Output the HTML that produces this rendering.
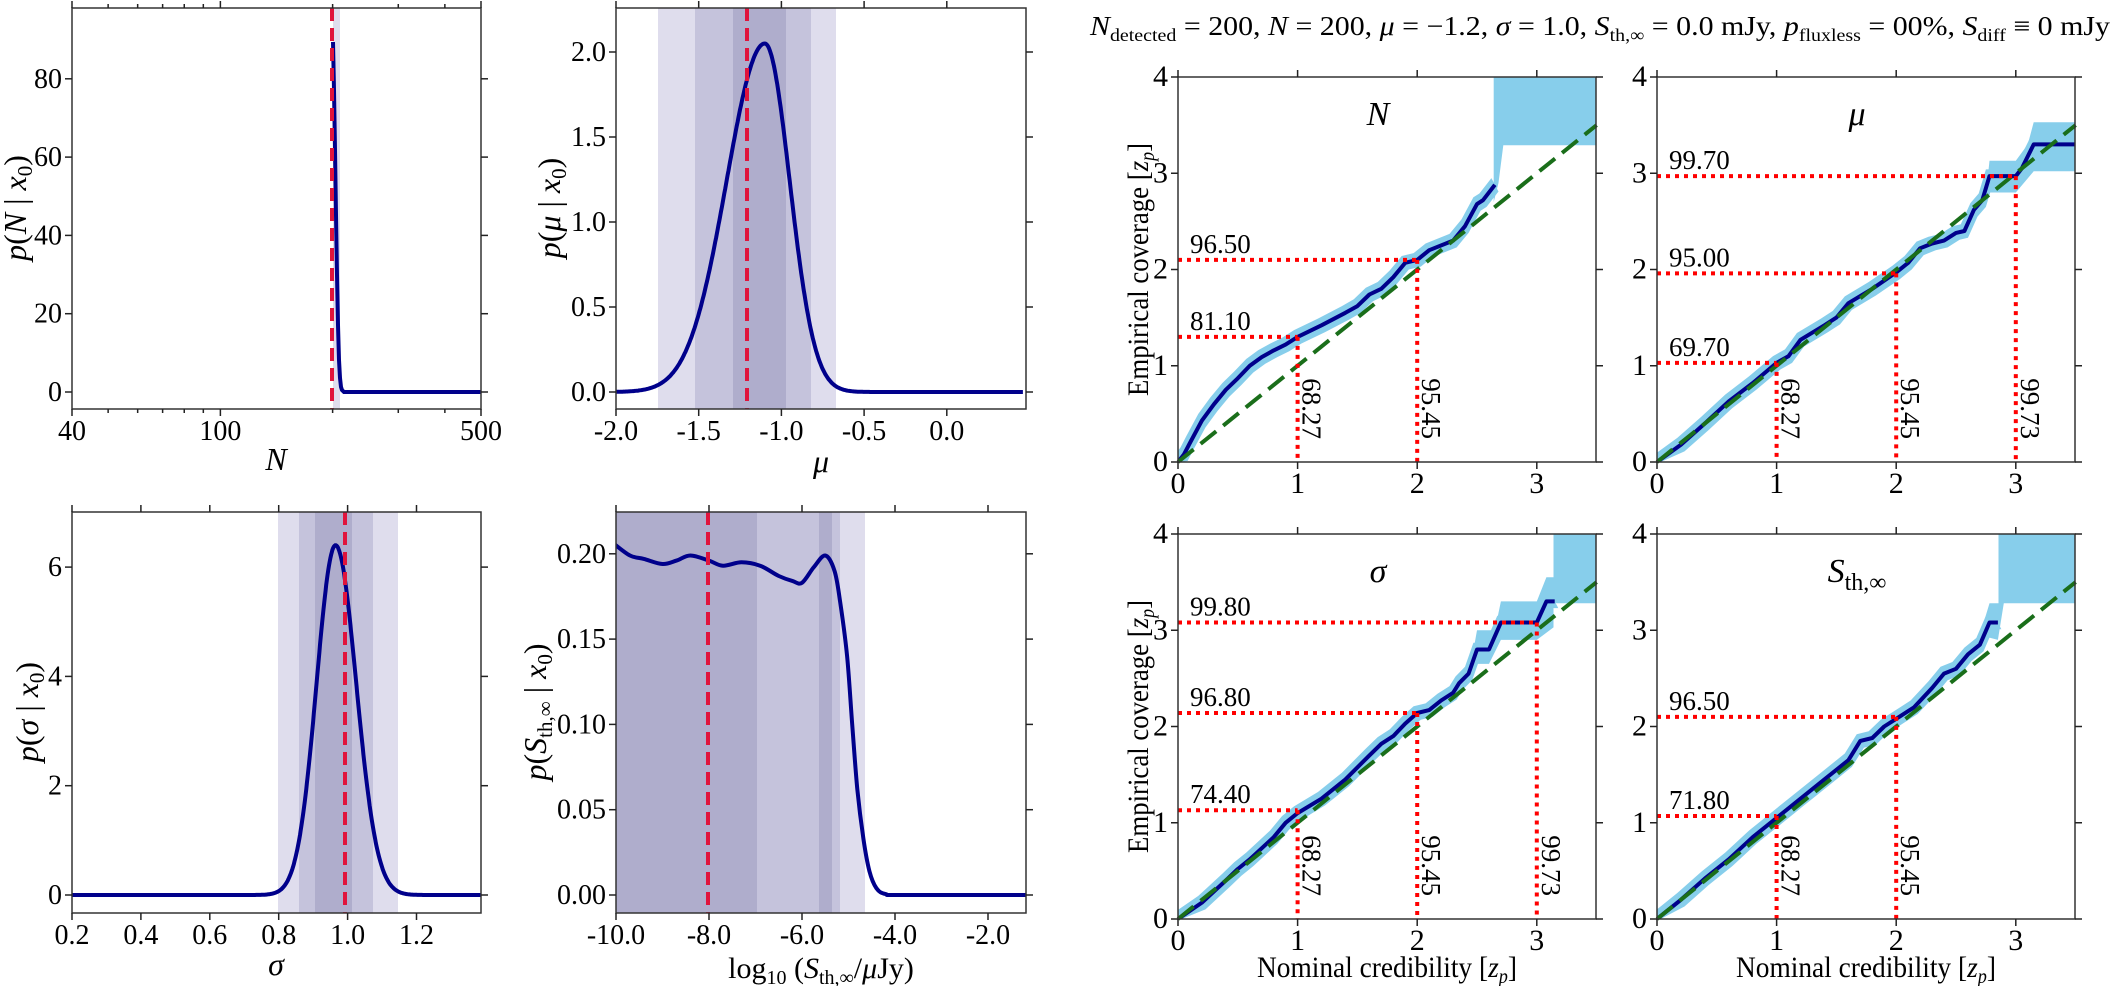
<!DOCTYPE html>
<html><head><meta charset="utf-8"><style>
html,body{margin:0;padding:0;background:#fff;}
svg{display:block;font-family:"Liberation Serif","DejaVu Serif",serif;}
text{font-family:"Liberation Serif","DejaVu Serif",serif;}
</style></head><body>
<svg id="s" width="2120" height="986" viewBox="0 0 2120 986" xmlns="http://www.w3.org/2000/svg" font-family="Liberation Serif, DejaVu Serif, serif"></svg>
<script>
var o='';
var LC='#dfdded',MC='#c5c3dc',DC='#afadcc',NAVY='#00008b',RED='#e0143c',SKY='#87ceeb',GRN='#1a6e1a';
function ln(x1,y1,x2,y2,a){o+='<line x1="'+x1+'" y1="'+y1+'" x2="'+x2+'" y2="'+y2+'" '+(a||'stroke="#222" stroke-width="1.5"')+'/>';}
function tx(x,y,s,a){o+='<text x="'+x+'" y="'+y+'" '+(a||'')+'>'+s+'</text>';}
function rect(x,y,w,h,f){o+='<rect x="'+x+'" y="'+y+'" width="'+w+'" height="'+h+'" fill="'+f+'"/>';}
function cr(p){var d='M'+p[0][0].toFixed(1)+','+p[0][1].toFixed(1);
 for(var i=0;i<p.length-1;i++){var p0=p[i-1]||p[i],p1=p[i],p2=p[i+1],p3=p[i+2]||p2;
 d+=' C'+(p1[0]+(p2[0]-p0[0])/6).toFixed(1)+','+(p1[1]+(p2[1]-p0[1])/6).toFixed(1)+' '+(p2[0]-(p3[0]-p1[0])/6).toFixed(1)+','+(p2[1]-(p3[1]-p1[1])/6).toFixed(1)+' '+p2[0].toFixed(1)+','+p2[1].toFixed(1);}
 return d;}
function pl(p){return 'M'+p.map(function(q){return q[0].toFixed(1)+','+q[1].toFixed(1);}).join(' L');}
var cid=0;
function clip(L,T,R,B){cid++;o+='<clipPath id="c'+cid+'"><rect x="'+L+'" y="'+T+'" width="'+(R-L)+'" height="'+(B-T)+'"/></clipPath>';return 'url(#c'+cid+')';}
function frame(L,T,R,B){o+='<rect x="'+L+'" y="'+T+'" width="'+(R-L)+'" height="'+(B-T)+'" fill="none" stroke="#333" stroke-width="1.5"/>';}
function xt(L,T,R,B,x,lab,fs,minor){var l=minor?4:7;ln(x,B,x,B+l);ln(x,T-l,x,T);if(lab!==null&&lab!==undefined)tx(x,B+31,lab,'font-size="'+fs+'" text-anchor="middle"');}
function yt(L,T,R,B,y,lab,fs){ln(L-7,y,L,y);ln(R,y,R+7,y);tx(L-10,y+9,lab,'font-size="'+fs+'" text-anchor="end"');}
var FS=28;

(function(){var L=72,T=8,R=481,B=409;var a=Math.log10(40),b=Math.log10(500);
 function X(n){return L+(Math.log10(n)-a)/(b-a)*409;} function Y(v){return 392-v*3.915;}
 rect(333,T,7,B-T,LC);
 var c=clip(L,T,R,B);
 var p=[[333,42],[334,90],[335,150],[336,215],[337,275],[338,325],[339,360],[340,378],[341,387],[342,390],[344,392],[481,392]];
 o+='<path d="'+pl(p)+'" fill="none" stroke="'+NAVY+'" stroke-width="4" clip-path="'+c+'"/>';
 ln(332,T,332,B,'stroke="'+RED+'" stroke-width="4" stroke-dasharray="13 7"');
 frame(L,T,R,B);
 [0,20,40,60,80].forEach(function(v){yt(L,T,R,B,Y(v),v,FS);});
 xt(L,T,R,B,X(40),'40',FS);xt(L,T,R,B,X(100),'100',FS);xt(L,T,R,B,X(500),'500',FS);
 [50,60,70,80,90,200,300,400].forEach(function(n){xt(L,T,R,B,X(n),null,FS,true);});
 o+='<text transform="translate(26,208) rotate(-90)" font-size="32" text-anchor="middle"><tspan font-style="italic">p</tspan>(<tspan font-style="italic">N</tspan> | <tspan font-style="italic">x</tspan><tspan font-size="21" dy="6">0</tspan><tspan dy="-6">)</tspan></text>';
 tx(276,470,'N','font-size="32" font-style="italic" text-anchor="middle"');
})();

(function(){var L=616,T=8,R=1026,B=409;
 function X(m){return L+(m+2)*165.4;} function Y(v){return 392-v*170;}
 rect(658,T,836-658,B-T,LC);rect(695,T,811-695,B-T,MC);rect(733,T,786-733,B-T,DC);
 var c=clip(L,T,R,B);var p=[];
 for(var m=-2;m<=0.46;m+=0.005){var pk=-1.1,s=m<pk?0.231:0.15;var v=2.05*Math.exp(-(m-pk)*(m-pk)/(2*s*s));p.push([X(m),Y(v)]);}
 o+='<path d="'+pl(p)+'" fill="none" stroke="'+NAVY+'" stroke-width="4" clip-path="'+c+'"/>';
 ln(747,T,747,B,'stroke="'+RED+'" stroke-width="4" stroke-dasharray="13 7"');
 frame(L,T,R,B);
 [[0,'0.0'],[0.5,'0.5'],[1,'1.0'],[1.5,'1.5'],[2,'2.0']].forEach(function(q){yt(L,T,R,B,Y(q[0]),q[1],FS);});
 [[-2,'-2.0'],[-1.5,'-1.5'],[-1,'-1.0'],[-0.5,'-0.5'],[0,'0.0']].forEach(function(q){xt(L,T,R,B,X(q[0]),q[1],FS);});
 o+='<text transform="translate(560,208) rotate(-90)" font-size="32" text-anchor="middle"><tspan font-style="italic">p</tspan>(<tspan font-style="italic">μ</tspan> | <tspan font-style="italic">x</tspan><tspan font-size="21" dy="6">0</tspan><tspan dy="-6">)</tspan></text>';
 tx(821,472,'μ','font-size="32" font-style="italic" text-anchor="middle"');
})();

(function(){var L=72,T=512,R=481,B=913;
 function X(s){return L+(s-0.2)*344.5;} function Y(v){return 895-v*54.65;}
 rect(278,T,120,B-T,LC);rect(299,T,74,B-T,MC);rect(315,T,37,B-T,DC);
 var c=clip(L,T,R,B);var p=[];
 for(var s=0.2;s<=1.39;s+=0.002){var pk=0.965,sd=s<pk?0.055:0.06;p.push([X(s),Y(6.4*Math.exp(-(s-pk)*(s-pk)/(2*sd*sd)))]);}
 o+='<path d="'+pl(p)+'" fill="none" stroke="'+NAVY+'" stroke-width="4" clip-path="'+c+'"/>';
 ln(345,T,345,B,'stroke="'+RED+'" stroke-width="4" stroke-dasharray="13 7"');
 frame(L,T,R,B);
 [0,2,4,6].forEach(function(v){yt(L,T,R,B,Y(v),v,FS);});
 [[0.2,'0.2'],[0.4,'0.4'],[0.6,'0.6'],[0.8,'0.8'],[1.0,'1.0'],[1.2,'1.2']].forEach(function(q){xt(L,T,R,B,X(q[0]),q[1],FS);});
 o+='<text transform="translate(38,712) rotate(-90)" font-size="32" text-anchor="middle"><tspan font-style="italic">p</tspan>(<tspan font-style="italic">σ</tspan> | <tspan font-style="italic">x</tspan><tspan font-size="21" dy="6">0</tspan><tspan dy="-6">)</tspan></text>';
 tx(276,975,'σ','font-size="32" font-style="italic" text-anchor="middle"');
})();

(function(){var L=616,T=512,R=1026,B=913;
 function X(l){return L+(l+10)*46.5;} function Y(v){return 895-v*1706;}
 rect(L,T,757-L,B-T,DC);rect(757,T,840-757,B-T,MC);rect(819,T,13,B-T,DC);rect(840,T,25,B-T,LC);
 var c=clip(L,T,R,B);
 var d=[[-10.05,0.206],[-9.7,0.199],[-9.4,0.197],[-9.0,0.194],[-8.7,0.196],[-8.4,0.199],[-8.0,0.196],[-7.7,0.193],[-7.3,0.195],[-6.9,0.193],[-6.5,0.187],[-6.2,0.184],[-6.0,0.183],[-5.75,0.192],[-5.5,0.199],[-5.3,0.19],[-5.18,0.172],[-5.03,0.14],[-4.92,0.1],[-4.81,0.062],[-4.68,0.033],[-4.55,0.014],[-4.4,0.004],[-4.2,0.0005],[-3.8,0],[-0.8,0]];
 var p=d.map(function(q){return [X(q[0]),Y(q[1])];});
 o+='<path d="'+cr(p)+'" fill="none" stroke="'+NAVY+'" stroke-width="4" clip-path="'+c+'"/>';
 ln(708,T,708,B,'stroke="'+RED+'" stroke-width="4" stroke-dasharray="13 7"');
 frame(L,T,R,B);
 [[0,'0.00'],[0.05,'0.05'],[0.1,'0.10'],[0.15,'0.15'],[0.2,'0.20']].forEach(function(q){yt(L,T,R,B,Y(q[0]),q[1],FS);});
 [[-10,'-10.0'],[-8,'-8.0'],[-6,'-6.0'],[-4,'-4.0'],[-2,'-2.0']].forEach(function(q){xt(L,T,R,B,X(q[0]),q[1],FS);});
 o+='<text transform="translate(546,712) rotate(-90)" font-size="32" text-anchor="middle"><tspan font-style="italic">p</tspan>(<tspan font-style="italic">S</tspan><tspan font-size="21" dy="6">th,∞</tspan><tspan dy="-6"> | </tspan><tspan font-style="italic">x</tspan><tspan font-size="21" dy="6">0</tspan><tspan dy="-6">)</tspan></text>';
 o+='<text x="821" y="978" font-size="30" text-anchor="middle">log<tspan font-size="20" dy="6">10</tspan><tspan dy="-6"> (</tspan><tspan font-style="italic">S</tspan><tspan font-size="20" dy="6">th,∞</tspan><tspan dy="-6">/</tspan><tspan font-style="italic">μ</tspan>Jy)</text>';
})();

function cov(L,B,title,curve,extra,hs,vs,ylab,xlab){
 var T=B-385,R=L+418;function X(z){return L+z*119.6;} function Y(c){return B-c*96.25;}
 var c=clip(L,T,R,B);
 var up=curve.map(function(q){return [X(q[0]-0.03),Y(q[1]+0.07)];});
 var lo=curve.map(function(q){return [X(q[0]+0.03),Y(Math.max(0,q[1]-0.07))];}).reverse();
 o+='<path d="'+pl(up.concat(lo))+'Z" fill="'+SKY+'" clip-path="'+c+'"/>';
 extra.forEach(function(poly){o+='<path d="'+pl(poly.map(function(q){return [X(q[0]),Y(q[1])];}))+'Z" fill="'+SKY+'" clip-path="'+c+'"/>';});
 o+='<path d="'+pl(curve.map(function(q){return [X(q[0]),Y(q[1])];}))+'" fill="none" stroke="'+NAVY+'" stroke-width="4" stroke-linejoin="round" clip-path="'+c+'"/>';
 ln(X(0),Y(0),X(3.5),Y(3.5),'stroke="'+GRN+'" stroke-width="4" stroke-dasharray="20 9"');
 var DOT='stroke="#ff0000" stroke-width="4" stroke-dasharray="4 5"';
 hs.forEach(function(h){ln(L,Y(h[1]),X(h[0]),Y(h[1]),DOT);tx(L+12,Y(h[1])-7,h[2],'font-size="27"');});
 vs.forEach(function(v){ln(X(v[0]),Y(v[1]),X(v[0]),B,DOT);o+='<text transform="translate('+(X(v[0])+5)+','+(Y(0.87))+') rotate(90)" font-size="27">'+v[2]+'</text>';});
 frame(L,T,R,B);
 [0,1,2,3,4].forEach(function(v){yt(L,T,R,B,Y(v),v,30);});
 [0,1,2,3].forEach(function(v){xt(L,T,R,B,X(v),v,30);});
 o+='<text x="'+(L+200)+'" y="'+(T+48)+'" font-size="34" font-style="italic" text-anchor="middle">'+title+'</text>';
 if(ylab)o+='<text transform="translate('+(L-30)+','+((T+B)/2)+') rotate(-90)" font-size="30" text-anchor="middle" textLength="253" lengthAdjust="spacingAndGlyphs">Empirical coverage [<tspan font-style="italic">z</tspan><tspan font-size="20" dy="6" font-style="italic">p</tspan><tspan dy="-6">]</tspan></text>';
 if(xlab)o+='<text x="'+(L+209)+'" y="977" font-size="30" text-anchor="middle" textLength="260" lengthAdjust="spacingAndGlyphs">Nominal credibility [<tspan font-style="italic">z</tspan><tspan font-size="20" dy="6" font-style="italic">p</tspan><tspan dy="-6">]</tspan></text>';
}
cov(1178,462,'N',
 [[0,0],[0.05,0.08],[0.1,0.2],[0.2,0.43],[0.3,0.6],[0.4,0.75],[0.5,0.87],[0.6,1.0],[0.7,1.09],[0.8,1.16],[0.9,1.22],[1.0,1.3],[1.2,1.42],[1.4,1.55],[1.5,1.62],[1.6,1.74],[1.7,1.8],[1.8,1.92],[1.9,2.07],[2.0,2.1],[2.1,2.2],[2.3,2.3],[2.4,2.45],[2.5,2.68],[2.55,2.72],[2.65,2.88]],
 [[[2.64,2.7],[2.64,4],[3.5,4],[3.5,3.29],[2.72,3.29],[2.68,2.9]]],
 [[2,2.1,'96.50'],[1,1.3,'81.10']],[[1,1.3,'68.27'],[2,2.1,'95.45']],true,false);
cov(1657,462,'μ',
 [[0,0],[0.2,0.18],[0.4,0.4],[0.6,0.63],[0.8,0.82],[1.0,1.03],[1.1,1.1],[1.2,1.27],[1.4,1.42],[1.5,1.5],[1.6,1.65],[1.8,1.8],[2.0,1.97],[2.1,2.07],[2.2,2.22],[2.3,2.27],[2.4,2.3],[2.5,2.38],[2.57,2.4],[2.65,2.62],[2.72,2.72],[2.78,2.97],[3.0,2.97],[3.05,3.05],[3.15,3.3],[3.5,3.3]],
 [[[2.75,2.78],[2.78,3.13],[3.0,3.13],[3.1,3.3],[3.15,3.53],[3.5,3.53],[3.5,3.02],[3.15,3.02],[3.0,2.8],[2.75,2.8]]],
 [[3,2.97,'99.70'],[2,1.96,'95.00'],[1,1.03,'69.70']],[[1,1.03,'68.27'],[2,1.96,'95.45'],[3,2.97,'99.73']],false,false);
cov(1178,919,'σ',
 [[0,0],[0.2,0.17],[0.4,0.4],[0.5,0.52],[0.6,0.62],[0.8,0.85],[0.9,1.0],[1.0,1.1],[1.2,1.25],[1.4,1.45],[1.6,1.7],[1.7,1.82],[1.8,1.9],[1.9,2.03],[2.0,2.14],[2.1,2.17],[2.2,2.27],[2.3,2.35],[2.35,2.45],[2.43,2.55],[2.5,2.8],[2.6,2.8],[2.7,3.08],[3.0,3.08],[3.08,3.3],[3.15,3.3]],
 [[[2.45,2.65],[2.5,3.0],[2.65,3.0],[2.7,3.3],[3.0,3.3],[3.08,3.55],[3.14,3.55],[3.14,4],[3.5,4],[3.5,3.28],[3.14,3.28],[3.14,3.03],[3.0,2.9],[2.7,2.9],[2.6,2.65]]],
 [[3,3.08,'99.80'],[2,2.14,'96.80'],[1,1.13,'74.40']],[[1,1.13,'68.27'],[2,2.14,'95.45'],[3,3.08,'99.73']],true,true);
cov(1657,919,'S<tspan font-style="normal" font-size="24" dy="8">th,∞</tspan>',
 [[0,0],[0.2,0.2],[0.4,0.42],[0.6,0.62],[0.8,0.85],[1.0,1.05],[1.2,1.25],[1.4,1.45],[1.6,1.65],[1.7,1.85],[1.8,1.88],[1.9,2.0],[2.0,2.08],[2.15,2.2],[2.3,2.4],[2.4,2.55],[2.5,2.6],[2.6,2.75],[2.7,2.85],[2.78,3.08],[2.85,3.08]],
 [[[2.7,2.95],[2.78,3.28],[2.855,3.28],[2.855,4],[3.5,4],[3.5,3.28],[2.9,3.28],[2.85,2.9]]],
 [[2,2.1,'96.50'],[1,1.07,'71.80']],[[1,1.07,'68.27'],[2,2.1,'95.45']],false,true);

o+='<text x="1090" y="35" font-size="27" textLength="1020" lengthAdjust="spacingAndGlyphs"><tspan font-style="italic">N</tspan><tspan font-size="18" dy="6">detected</tspan><tspan dy="-6"> = 200, </tspan><tspan font-style="italic">N</tspan> = 200, <tspan font-style="italic">μ</tspan> = −1.2, <tspan font-style="italic">σ</tspan> = 1.0, <tspan font-style="italic">S</tspan><tspan font-size="18" dy="6">th,∞</tspan><tspan dy="-6"> = 0.0 mJy, </tspan><tspan font-style="italic">p</tspan><tspan font-size="18" dy="6">fluxless</tspan><tspan dy="-6"> = 00%, </tspan><tspan font-style="italic">S</tspan><tspan font-size="18" dy="6">diff</tspan><tspan dy="-6"> ≡ 0 mJy</tspan></text>';
document.getElementById('s').innerHTML=o;
</script>
</body></html>
